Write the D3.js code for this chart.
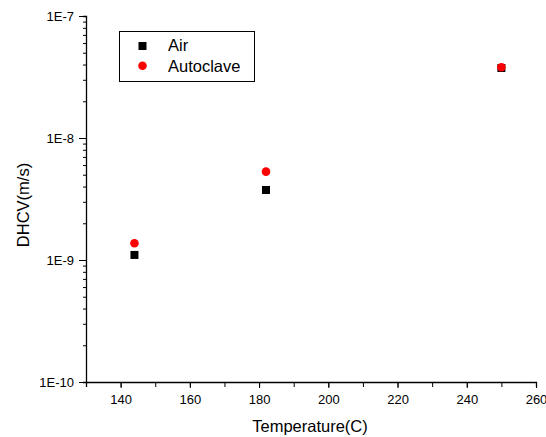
<!DOCTYPE html>
<html>
<head>
<meta charset="utf-8">
<script src="https://cdn.jsdelivr.net/npm/d3@7"></script>
<style>
body { margin: 0; background: #fff; }
text { font-family: 'Liberation Sans', Arial, sans-serif; }
</style>
</head>
<body>
<div id="chart"></div>
<script>
// Data
var temps = [144, 182, 250]
var air = [1.1e-9, 3.75e-9, 3.75e-8]
var autoclave = [1.37e-9, 5.3e-9, 3.8e-8]
var xTicks = [140, 160, 180, 200, 220, 240, 260]
var yTicks = [1e-10, 1e-9, 1e-8, 1e-7]
var yTickLabels = ['1E-10', '1E-9', '1E-8', '1E-7']

var width = 546, height = 437

var svg = d3.select('#chart').append('svg')
	.attr('width', width)
	.attr('height', height)

var x = d3.scaleLinear().domain([130, 260]).range([86, 536])
var y = d3.scaleLog().domain([1e-10, 1e-7]).range([382, 16])

// x axis: minors every 10, labels on majors
var xMinor = d3.range(130, 261, 10)
svg.append('g')
	.attr('transform', 'translate(0,382)')
	.call(d3.axisBottom(x).tickValues(xMinor).tickSize(5).tickFormat(''))
	.call(function(g){ g.select('.domain').attr('stroke-width', 1.3) })

svg.append('g')
	.attr('transform', 'translate(0,382)')
	.call(d3.axisBottom(x).tickValues(xTicks).tickSize(6).tickPadding(7).tickFormat(d3.format('d')))
	.call(function(g){
		g.select('.domain').remove()
		g.selectAll('text').attr('font-size', 13).attr('fill', '#000')
	})

// y axis: log minor ticks
var yMinor = []
for (var e = -10; e < -7; e++) {
	for (var m = 2; m <= 9; m++) yMinor.push(m * Math.pow(10, e))
}
svg.append('g')
	.attr('transform', 'translate(86,0)')
	.call(d3.axisLeft(y).tickValues(yMinor).tickSize(3).tickFormat(''))
	.call(function(g){ g.select('.domain').attr('stroke-width', 1.3) })

svg.append('g')
	.attr('transform', 'translate(86,0)')
	.call(d3.axisLeft(y).tickValues(yTicks).tickSize(7).tickPadding(5)
		.tickFormat(function(d, i){ return yTickLabels[i] }))
	.call(function(g){
		g.select('.domain').remove()
		g.selectAll('text').attr('font-size', 13).attr('fill', '#000')
	})

// Axis titles
svg.append('text')
	.attr('x', 310)
	.attr('y', 432)
	.attr('text-anchor', 'middle')
	.attr('font-size', 16.5)
	.text('Temperature(C)')

svg.append('text')
	.attr('transform', 'translate(29,205) rotate(-90)')
	.attr('text-anchor', 'middle')
	.attr('font-size', 16.5)
	.text('DHCV(m/s)')

// Points
var sq = 8
svg.append('g').selectAll('rect')
	.data(temps)
	.enter().append('rect')
	.attr('x', function(d){ return x(d) - sq / 2 })
	.attr('y', function(d, i){ return y(air[i]) - sq / 2 })
	.attr('width', sq)
	.attr('height', sq)
	.attr('fill', '#000')

svg.append('g').selectAll('circle')
	.data(temps)
	.enter().append('circle')
	.attr('cx', function(d){ return x(d) })
	.attr('cy', function(d, i){ return y(autoclave[i]) })
	.attr('r', 4.3)
	.attr('fill', '#f00')

// Legend
var legend = svg.append('g')
legend.append('rect')
	.attr('x', 119.5).attr('y', 31.5)
	.attr('width', 135).attr('height', 50)
	.attr('fill', 'none').attr('stroke', '#000')
legend.append('rect')
	.attr('x', 142.5 - sq / 2).attr('y', 46 - sq / 2)
	.attr('width', sq).attr('height', sq)
	.attr('fill', '#000')
legend.append('circle')
	.attr('cx', 142.5).attr('cy', 65.7).attr('r', 4.3)
	.attr('fill', '#f00')
legend.append('text')
	.attr('x', 168).attr('y', 50.5)
	.attr('font-size', 16.5)
	.text('Air')
legend.append('text')
	.attr('x', 168).attr('y', 71.5)
	.attr('font-size', 16.5)
	.text('Autoclave')
</script>
</body>
</html>
